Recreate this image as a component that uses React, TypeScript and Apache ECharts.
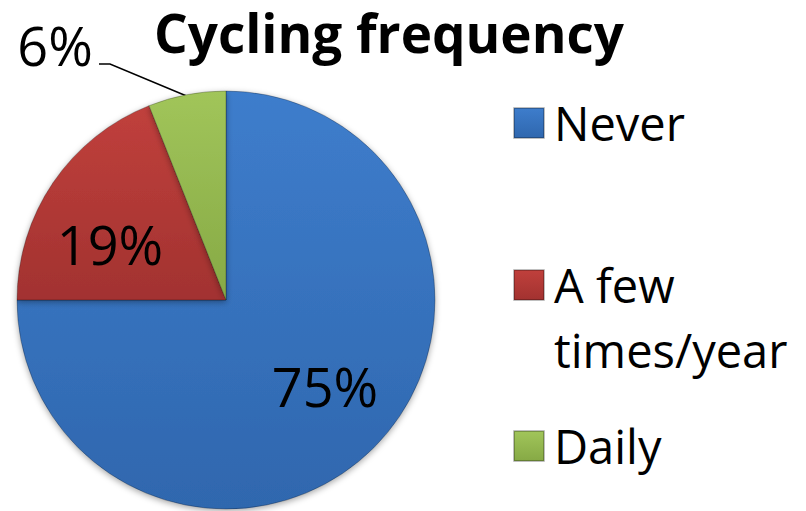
import React, { useEffect, useRef } from "react";
import * as echarts from "echarts";

const titleText = "Cycling frequency";
const categories = ["Never", "A few times/year", "Daily"];
const values = [75, 19, 6];
const legendLabels = ["Never", "\nA few\ntimes/year", "Daily"];
const baseColors = ["#3E7DCC", "#C0403C", "#A1C55A"];
const darkColors = ["#2F67AE", "#A23230", "#86A945"];

export default function App() {
  const ref = useRef<HTMLDivElement>(null);
  useEffect(() => {
    if (!ref.current) return;
    const chart = echarts.init(ref.current, undefined, { renderer: "svg" });
    const font = "'Open Sans', Lato, sans-serif";
    const color = (i: number) =>
      new echarts.graphic.LinearGradient(0, 0, 0, 1, [
        { offset: 0, color: baseColors[i] },
        { offset: 1, color: darkColors[i] },
      ]);
    const legendTops = [94.5, 182.5, 417.5];
    const legends = categories.map((c, i) => ({
      data: [c],
      left: 508,
      top: legendTops[i],
      orient: "vertical",
      selectedMode: false,
      itemWidth: 30,
      itemHeight: 30,
      itemGap: 0,
      icon: "rect",
      formatter: () => legendLabels[i],
      textStyle: {
        fontFamily: font,
        fontSize: 47,
        color: "#000",
        lineHeight: i === 1 ? 65 : 47,
        padding: [0, 0, 0, 5],
      },
    }));
    const labelPos = [
      { x: 325, y: 386, align: "center", verticalAlign: "middle" },
      { x: 110, y: 244, align: "center", verticalAlign: "middle" },
      { x: 55, y: 45, align: "center", verticalAlign: "middle", labelLinePoints: [[189, 97], [110, 64], [99, 64]] },
    ];
    chart.setOption({
      animation: false,
      title: {
        text: titleText,
        left: 149,
        top: 1,
        textStyle: { fontFamily: font, fontWeight: "bold", fontSize: 53, color: "#000", lineHeight: 53 },
      },
      legend: legends,
      series: [
        {
          type: "pie",
          center: [226, 300],
          radius: 209,
          startAngle: 90,
          clockwise: true,
          data: categories.map((c, i) => ({
            name: c,
            value: values[i],
            itemStyle: { color: color(i) },
            label: {
              position: i === 2 ? "outside" : "inside",
            },
            labelLine: { show: i === 2 },
          })),
          itemStyle: {
            borderColor: "rgba(0,0,0,0.25)",
            borderWidth: 1,
            shadowBlur: 6,
            shadowColor: "rgba(0,0,0,0.35)",
            shadowOffsetY: 2,
          },
          label: {
            show: true,
            formatter: "{c}%",
            fontFamily: font,
            fontSize: 54,
            color: "#000",
          },
          labelLine: {
            show: true,
            lineStyle: { color: "#000", width: 1.5 },
          },
          labelLayout: (p: any) => labelPos[p.dataIndex],
          emphasis: { disabled: true },
        },
      ],
    });
    return () => chart.dispose();
  }, []);
  return (
    <div
      ref={ref}
      style={{ position: "absolute", left: 0, top: 0, width: 806, height: 511, background: "#fff" }}
    />
  );
}
